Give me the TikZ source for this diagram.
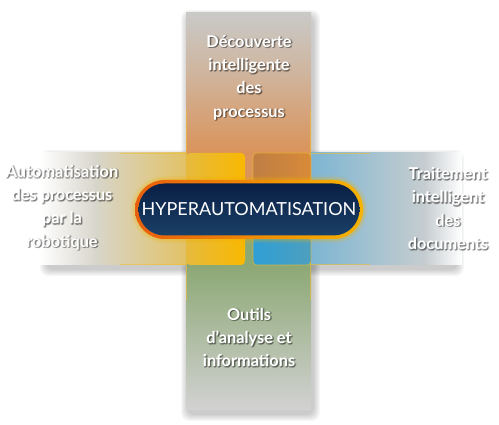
\documentclass[tikz,border=0pt]{standalone}
\usepackage{fontspec}
\setmainfont{Lato}
\usetikzlibrary{shapes.misc}
\definecolor{vgray}{HTML}{C9C9C7}
\definecolor{vpeach}{HTML}{CFB6A0}
\definecolor{vorange}{HTML}{DA935A}
\definecolor{vgreen}{HTML}{8CA874}
\definecolor{vgraylow}{HTML}{D2D2D2}
\definecolor{lgray}{HTML}{D8D6CC}
\definecolor{ltan}{HTML}{E2C266}
\definecolor{rblue}{HTML}{7DB5D2}
\definecolor{rgray}{HTML}{C6CDD0}
\definecolor{ysqa}{HTML}{E6BA3E}
\definecolor{ysqb}{HTML}{F9B800}
\definecolor{bsqa}{HTML}{BE7E44}
\definecolor{bsqb}{HTML}{D88A38}
\definecolor{bsqc}{HTML}{2E9FD6}
\definecolor{bsqd}{HTML}{4E9FBE}
\definecolor{pillL}{HTML}{E85E0C}
\definecolor{pillR}{HTML}{F6B400}
\definecolor{navyT}{HTML}{0A1F44}
\definecolor{navyB}{HTML}{1A4068}
\definecolor{barline}{HTML}{F0C030}
\tikzset{
  lbl/.style={text=white, align=center, font=\fontsize{16.3}{23.3}\selectfont\bfseries, inner sep=0pt},
  lblshadow/.style={text=black, opacity=0.22, align=center, font=\fontsize{16.3}{23.3}\selectfont\bfseries, inner sep=0pt},
  pillouter/.style={rounded rectangle, minimum width=228pt, minimum height=59pt, inner sep=0pt, left color=pillL, right color=pillR},
  pillinner/.style={rounded rectangle, minimum width=221pt, minimum height=52pt, inner sep=0pt, top color=navyT, bottom color=navyB, text=white, font=\fontsize{18}{20}\selectfont},
  softshadow/.style={black, opacity=0.03, rounded corners=8pt}
}
\begin{document}
\begin{tikzpicture}[x=1pt,y=-1pt]
\useasboundingbox (0,0) rectangle (499,425);
% soft shadows
\foreach \i in {1,...,7} {
  \fill[softshadow] (186-\i+2,13-\i+4) rectangle (311+\i+2,410+\i+4);
  \fill[softshadow] (45-\i+2,153-\i+4) rectangle (455+\i+2,265+\i+4);
}
% vertical bar
\shade[top color=vgray, bottom color=vpeach] (186,13) rectangle (311,70);
\shade[top color=vpeach, bottom color=vorange] (186,69.5) rectangle (311,153);
\fill[vorange] (186,152.5) rectangle (311,210);
\fill[vgreen] (186,209.5) rectangle (311,265);
\shade[top color=vgreen, bottom color=vgraylow] (186,264.5) rectangle (311,410);
\draw[barline, opacity=0.6, line width=0.7pt] (186.4,110) -- (186.4,300) (310.6,110) -- (310.6,300);
% horizontal bars
\shade[left color=white, right color=lgray] (40,153) rectangle (95,265);
\shade[left color=lgray, right color=ltan] (94.5,153) rectangle (186,265);
\shade[left color=rblue, right color=rgray] (311,153) rectangle (425,265);
\shade[left color=rgray, right color=white] (424.5,153) rectangle (462,265);
\draw[barline, opacity=0.6, line width=0.7pt] (120,153.4) -- (186,153.4) (120,264.6) -- (186,264.6)
  (311,153.4) -- (370,153.4) (311,264.6) -- (370,264.6);
% centre squares
\shade[left color=ysqa, right color=ysqb, rounded corners=4pt] (186,153) rectangle (245,265);
\begin{scope}
  \clip[rounded corners=4pt] (253,153) rectangle (311,265);
  \shade[left color=bsqa, right color=bsqb] (253,153) rectangle (311,209);
  \shade[left color=bsqc, right color=bsqd] (253,209) rectangle (311,265);
\end{scope}
\draw[barline, opacity=0.7, line width=0.6pt, rounded corners=4pt] (253,153) rectangle (311,265);
% pill glow
\foreach \w/\o in {9/0.08,6/0.12,3/0.18} {
  \node[rounded rectangle, minimum width=228pt+\w pt, minimum height=59pt+\w pt, inner sep=0pt, fill=pillR, opacity=\o] at (249,209.5) {};
}
\node[pillouter] (pillo) at (249,209.5) {};
\node[pillinner] (hyper) at (pillo.center) {HYPERAUTOMATISATION};
% labels with shadows
\foreach \dx/\dy in {1.2/1.2, 0.6/1.8, 1.8/0.6} {
  \node[lblshadow] at (249+\dx,77.5+\dy) {Découverte\\intelligente\\des\\processus};
  \node[lblshadow] at (62+\dx,207.5+\dy) {Automatisation\\des processus\\par la\\robotique};
  \node[lblshadow] at (448+\dx,208.5+\dy) {Traitement\\intelligent\\des\\documents};
  \node[lblshadow] at (249+\dx,337.5+\dy) {Outils\\d’analyse et\\informations};
}
\node[lbl] (top) at (249,77.5) {Découverte\\intelligente\\des\\processus};
\node[lbl] (left) at (62,207.5) {Automatisation\\des processus\\par la\\robotique};
\node[lbl] (right) at (448,208.5) {Traitement\\intelligent\\des\\documents};
\node[lbl] (bot) at (249,337.5) {Outils\\d’analyse et\\informations};
\end{tikzpicture}
\end{document}
